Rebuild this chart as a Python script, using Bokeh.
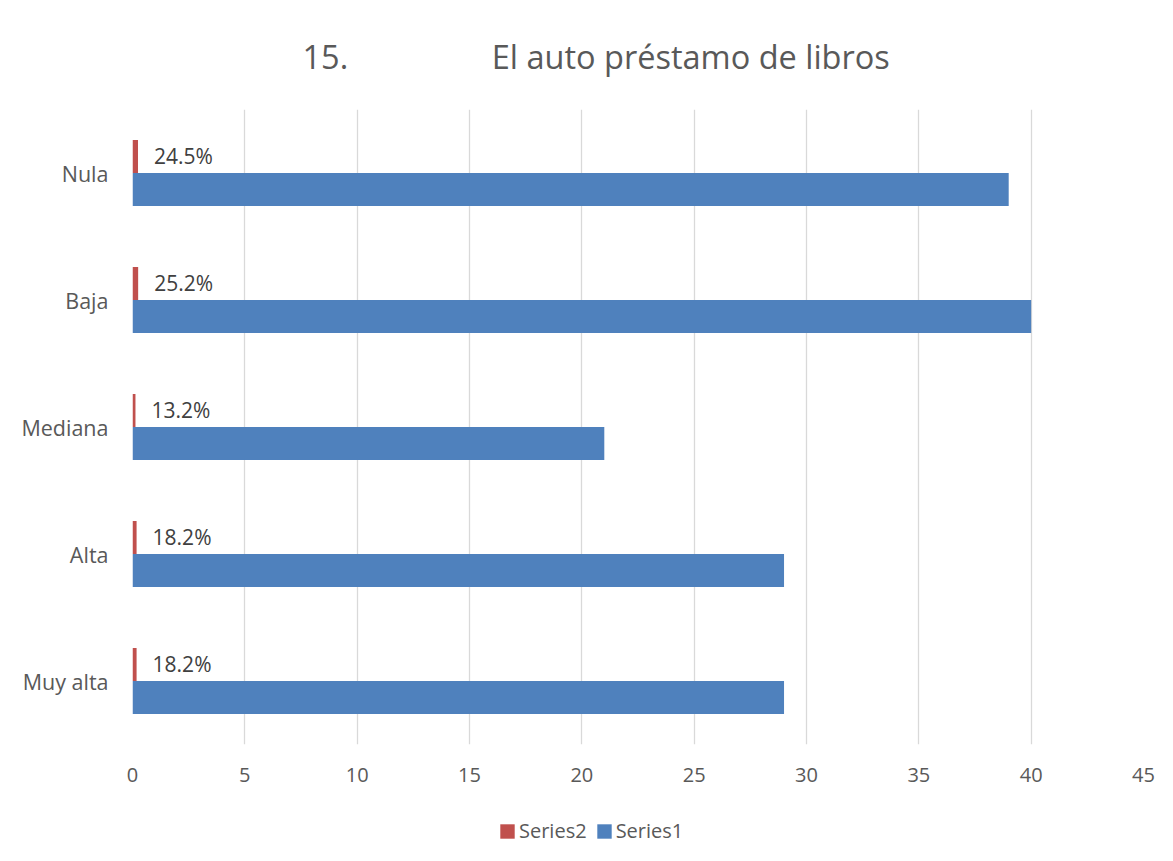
from bokeh.plotting import figure
from bokeh.layouts import column
from bokeh.models import (FactorRange, Range1d, ColumnDataSource, Legend, LegendItem,
                          FixedTicker, Title)
from bokeh.transform import dodge
from bokeh.embed import file_html
from bokeh.resources import INLINE
from bokeh.core.properties import value

# ---- data ----
categories = ["Nula", "Baja", "Mediana", "Alta", "Muy alta"]
series1 = [39, 40, 21, 29, 29]
series2 = [0.245, 0.252, 0.132, 0.182, 0.182]
series2_labels = ["24.5%", "25.2%", "13.2%", "18.2%", "18.2%"]
x_ticks = [0, 5, 10, 15, 20, 25, 30, 35, 40, 45]
series_names = ["Series2", "Series1"]
title_text = "15.\u00a0\u00a0\u00a0\u00a0\u00a0\u00a0\u00a0\u00a0\u00a0\u00a0\u00a0\u00a0\u00a0\u00a0\u00a0\u00a0\u00a0El auto préstamo de libros"

FONT = "Open Sans"
BLUE = "#4f81bd"
RED = "#c0504d"
GRAY = "#595959"

src = ColumnDataSource(dict(cat=categories, s1=series1, s2=series2, lbl=series2_labels))

p = figure(frame_width=1011, frame_height=635, output_backend="svg", toolbar_location=None,
           y_range=FactorRange(factors=list(reversed(categories))),
           x_range=Range1d(0, 45),
           min_border_left=132, min_border_right=21, min_border_top=109, min_border_bottom=55)

p.add_layout(Title(text=title_text, align="left", offset=170, text_font_size="32.5px",
                   text_font=FONT, text_font_style="normal", text_color=GRAY,
                   standoff=61), "above")

r1 = p.hbar(y=dodge("cat", -0.13, range=p.y_range), left=0, right="s1", height=0.26,
            source=src, fill_color=BLUE, line_color=None)
r2 = p.hbar(y=dodge("cat", 0.13, range=p.y_range), left=0, right="s2", height=0.26,
            source=src, fill_color=RED, line_color=None)
p.text(x="s2", y=dodge("cat", 0.13, range=p.y_range), text="lbl", source=src,
       x_offset=16, text_baseline="middle", text_align="left",
       text_font=value(FONT), text_font_size="21px", text_color="#404040")

p.outline_line_color = None
p.ygrid.grid_line_color = None
p.xgrid.grid_line_color = "#d9d9d9"
p.xgrid.grid_line_width = 1.3

p.xaxis.ticker = FixedTicker(ticks=x_ticks)
p.xaxis.axis_line_color = None
p.xaxis.major_tick_line_color = None
p.xaxis.minor_tick_line_color = None
p.xaxis.major_tick_out = 0
p.xaxis.major_label_standoff = 23
p.xaxis.major_label_text_font = FONT
p.xaxis.major_label_text_font_size = "20px"
p.xaxis.major_label_text_color = GRAY

p.yaxis.axis_line_color = None
p.yaxis.major_tick_line_color = None
p.yaxis.major_tick_out = 0
p.yaxis.major_label_standoff = 24
p.yaxis.major_label_text_font = FONT
p.yaxis.major_label_text_font_size = "21.5px"
p.yaxis.major_label_text_color = GRAY

# ---- legend strip below the chart (swatch renderers sit outside the visible range) ----
p2 = figure(frame_width=1011, frame_height=55, output_backend="svg", toolbar_location=None,
            min_border_left=132, min_border_right=21, min_border_top=0, min_border_bottom=0,
            x_range=Range1d(0, 1), y_range=Range1d(0, 1))
p2.axis.visible = False
p2.grid.grid_line_color = None
p2.outline_line_color = None
swatch = ColumnDataSource(dict(y=[-10], left=[-10], right=[-9]))
lg2 = p2.hbar(y="y", left="left", right="right", height=0.1, source=swatch,
              fill_color=RED, line_color=None)
lg1 = p2.hbar(y="y", left="left", right="right", height=0.1, source=swatch,
              fill_color=BLUE, line_color=None)

legend = Legend(items=[LegendItem(label=series_names[0], renderers=[lg2]),
                       LegendItem(label=series_names[1], renderers=[lg1])],
                orientation="horizontal", location=(366, 10),
                glyph_width=18, glyph_height=18, label_standoff=3, spacing=8,
                label_text_font=FONT, label_text_font_size="20px", label_text_color=GRAY,
                border_line_color=None, background_fill_alpha=0, margin=0, padding=5)
p2.add_layout(legend, "center")

layout = column(p, p2, spacing=0)
open("out.html", "w").write(file_html(layout, INLINE))
